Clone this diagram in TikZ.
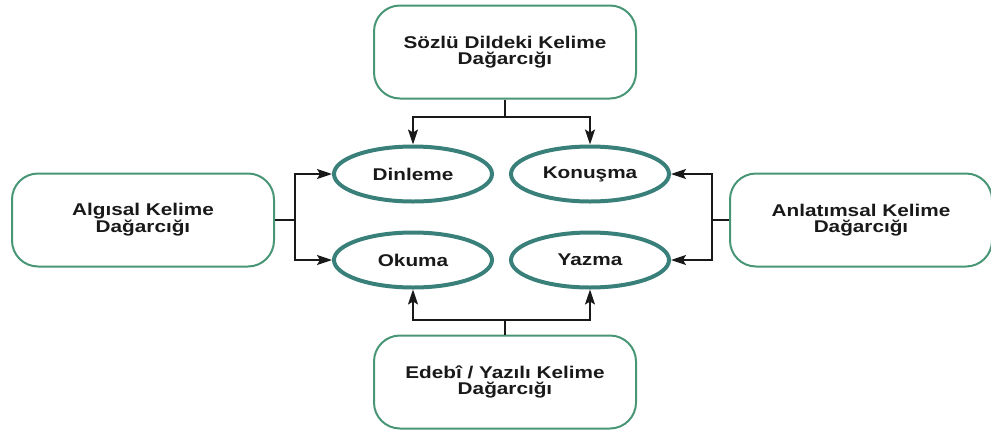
\documentclass[tikz,border=0pt]{standalone}
\usepackage{fontspec}
\setmainfont{Liberation Sans}[FakeStretch=1.22]
\usetikzlibrary{arrows.meta,shapes.geometric}
\definecolor{boxgreen}{RGB}{72,150,118}
\definecolor{ellteal}{RGB}{58,128,122}
\definecolor{txt}{RGB}{25,25,25}
\begin{document}
\begin{tikzpicture}[x=1pt,y=-1pt,
  vbox/.style={draw=boxgreen,line width=2pt,rounded corners=26pt,minimum width=262pt,minimum height=93pt,align=center,inner sep=0pt,font=\fontsize{17}{16}\selectfont\bfseries,text=txt},
  skill/.style={ellipse,draw=ellteal,line width=4pt,minimum width=158pt,minimum height=55pt,inner sep=0pt,font=\fontsize{17}{16}\selectfont\bfseries,text=txt},
  conn/.style={draw=black!90,line width=1.8pt},
  arr/.style={conn,-{Stealth[length=15pt,width=10pt,inset=3pt]}}
]
\useasboundingbox (0,0) rectangle (991,429);
\node[vbox] (top) at (505,52) {Sözlü Dildeki Kelime\\Dağarcığı};
\node[vbox] (left) at (143,220) {Algısal Kelime\\Dağarcığı};
\node[vbox] (right) at (861,220) {Anlatımsal Kelime\\Dağarcığı};
\node[vbox] (bot) at (505,382) {Edebî / Yazılı Kelime\\Dağarcığı};
\node[skill] (din) at (413,174) {Dinleme};
\node[skill] (kon) at (590,174) {Konuşma};
\node[skill] (oku) at (413,260) {Okuma};
\node[skill] (yaz) at (590,260) {Yazma};
\coordinate (tj) at (505,117);
\coordinate (lj) at (295,220);
\coordinate (rj) at (712,220);
\coordinate (bj) at (505,320);
\draw[conn] (top.south) -- (tj);
\draw[arr] (tj) -| (din.north);
\draw[arr] (tj) -| (kon.north);
\draw[conn] (left.east) -- (lj);
\draw[arr] (lj) |- (din.west);
\draw[arr] (lj) |- (oku.west);
\draw[conn] (right.west) -- (rj);
\draw[arr] (rj) |- (kon.east);
\draw[arr] (rj) |- (yaz.east);
\draw[conn] (bot.north) -- (bj);
\draw[arr] (bj) -| (oku.south);
\draw[arr] (bj) -| (yaz.south);
\end{tikzpicture}
\end{document}
